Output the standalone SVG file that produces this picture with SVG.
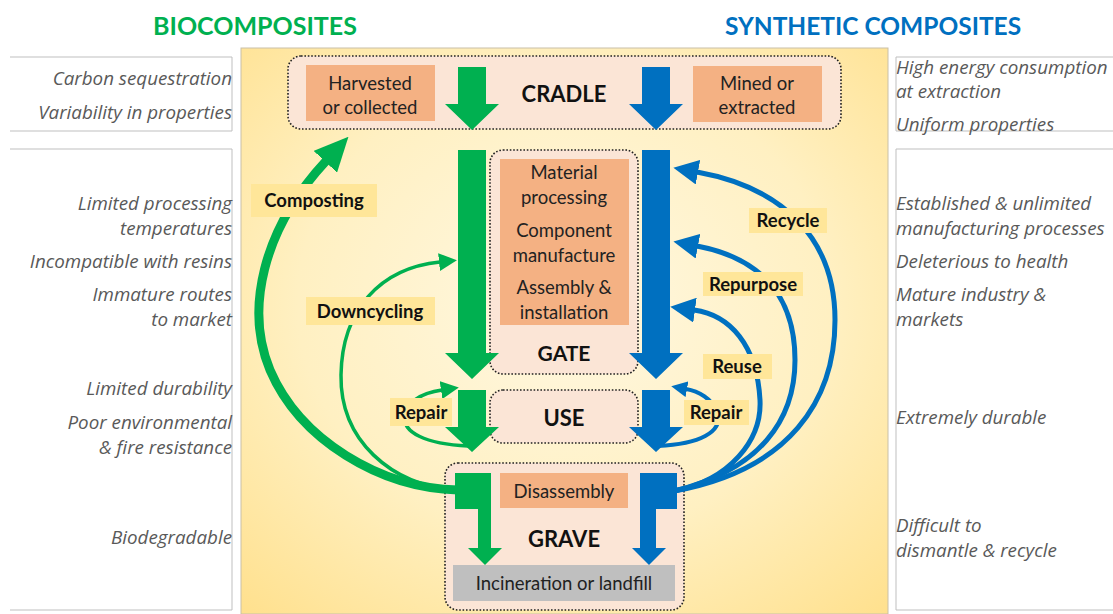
<svg xmlns="http://www.w3.org/2000/svg" width="1113" height="614" viewBox="0 0 1113 614">
<defs>
<radialGradient id="bg" cx="50%" cy="45%" r="75%">
<stop offset="0" stop-color="#fff8e2"/>
<stop offset="0.55" stop-color="#fff0c2"/>
<stop offset="1" stop-color="#ffe08c"/>
</radialGradient>
<marker id="mgl" markerUnits="userSpaceOnUse" markerWidth="34" markerHeight="32" refX="1" refY="16" orient="auto" viewBox="0 0 34 32"><path d="M0,0 L34,16 L0,32 z" fill="#00b050"/></marker>
<marker id="mgs" markerUnits="userSpaceOnUse" markerWidth="18" markerHeight="18" refX="1" refY="9" orient="auto" viewBox="0 0 18 18"><path d="M0,0 L18,9 L0,18 z" fill="#00b050"/></marker>
<marker id="mbl" markerUnits="userSpaceOnUse" markerWidth="25" markerHeight="25" refX="1" refY="12.5" orient="auto" viewBox="0 0 25 25"><path d="M0,0 L25,12.5 L0,25 z" fill="#0070c0"/></marker>
<marker id="mbs" markerUnits="userSpaceOnUse" markerWidth="16" markerHeight="16" refX="1" refY="8" orient="auto" viewBox="0 0 16 16"><path d="M0,0 L16,8 L0,16 z" fill="#0070c0"/></marker>
</defs>
<style>
text{font-family:Lato,"Open Sans","Liberation Sans",sans-serif;dominant-baseline:central}
.hd{font-size:24.5px;font-weight:bold;text-anchor:middle}
.side{font-family:"Open Sans",Lato,"Liberation Sans",sans-serif;font-size:18.8px;font-style:italic;fill:#595959}
.l{text-anchor:end}
.body{font-size:18.5px;fill:#222;text-anchor:middle}
.stage{font-size:22px;font-weight:bold;fill:#111;text-anchor:middle}
.lab{font-size:18.5px;font-weight:bold;fill:#111;text-anchor:middle}
.lbox{fill:#ffe699}
.stagebox{fill:#fbe5d6;stroke:#222;stroke-width:1.6;stroke-dasharray:1.6 1.8}
.ob{fill:#f4b183}
.pl{fill:none;stroke:#bfbfbf;stroke-width:1}
.g{fill:#00b050}
.b{fill:#0070c0}
.cg{fill:none;stroke:#00b050}
.cb{fill:none;stroke:#0070c0}
</style>
<rect width="1113" height="614" fill="#ffffff"/>
<g id="side-panels">
<path class="pl" d="M10,57 H232 V131 H10"/>
<path class="pl" d="M10,149 H232 V610 H10"/>
<path class="pl" d="M1113,57 H896 V131 H1113"/>
<path class="pl" d="M1113,149 H896 V610 H1113"/>
</g>
<g id="headers">
<text class="hd" x="255" y="25" fill="#00b050" style="font-size:25px">BIOCOMPOSITES</text>
<text class="hd" x="873" y="25" fill="#0070c0">SYNTHETIC COMPOSITES</text>
</g>
<g id="bio-properties">
<text class="side l" x="232" y="78">Carbon sequestration</text>
<text class="side l" x="232" y="112">Variability in properties</text>
<text class="side l" x="232" y="203">Limited processing</text>
<text class="side l" x="232" y="228">temperatures</text>
<text class="side l" x="232" y="261">Incompatible with resins</text>
<text class="side l" x="232" y="294">Immature routes</text>
<text class="side l" x="232" y="319">to market</text>
<text class="side l" x="232" y="388">Limited durability</text>
<text class="side l" x="232" y="422">Poor environmental</text>
<text class="side l" x="232" y="447">&amp; fire resistance</text>
<text class="side l" x="232" y="537">Biodegradable</text>
</g>
<g id="synthetic-properties">
<text class="side" x="896" y="67">High energy consumption</text>
<text class="side" x="896" y="91">at extraction</text>
<text class="side" x="896" y="124">Uniform properties</text>
<text class="side" x="896" y="203">Established &amp; unlimited</text>
<text class="side" x="896" y="228">manufacturing processes</text>
<text class="side" x="896" y="261">Deleterious to health</text>
<text class="side" x="896" y="294">Mature industry &amp;</text>
<text class="side" x="896" y="319">markets</text>
<text class="side" x="896" y="417">Extremely durable</text>
<text class="side" x="896" y="525">Difficult to</text>
<text class="side" x="896" y="550">dismantle &amp; recycle</text>
</g>
<rect id="background" x="241" y="48" width="647" height="566" fill="url(#bg)" stroke="#c9c0a8" stroke-width="1"/>
<g id="cradle">
<rect class="stagebox" x="288" y="56" width="553" height="73" rx="13"/>
<rect class="ob" x="306" y="65" width="129" height="56"/>
<text class="body" x="370" y="83">Harvested</text>
<text class="body" x="370" y="107">or collected</text>
<rect class="ob" x="693" y="66" width="129" height="56"/>
<text class="body" x="757" y="83">Mined or</text>
<text class="body" x="757" y="107">extracted</text>
<text class="stage" x="564" y="93">CRADLE</text>
</g>
<g id="gate">
<rect class="stagebox" x="490" y="150" width="148" height="224" rx="13"/>
<rect class="ob" x="500" y="159" width="129" height="166"/>
<text class="body" x="564" y="172">Material</text>
<text class="body" x="564" y="197">processing</text>
<text class="body" x="564" y="230">Component</text>
<text class="body" x="564" y="255">manufacture</text>
<text class="body" x="564" y="287">Assembly &amp;</text>
<text class="body" x="564" y="312">installation</text>
<text class="stage" x="564" y="352" style="font-size:21px">GATE</text>
</g>
<g id="use">
<rect class="stagebox" x="490" y="390" width="148" height="53" rx="13"/>
<text class="stage" x="564" y="417">USE</text>
</g>
<g id="grave">
<rect class="stagebox" x="445" y="463" width="239" height="147" rx="13"/>
<rect class="ob" x="500" y="473" width="128" height="35"/>
<text class="body" x="564" y="491">Disassembly</text>
<text class="stage" x="564" y="538">GRAVE</text>
<rect x="453" y="565" width="222" height="36" fill="#bfbfbf"/>
<text class="body" x="564" y="583">Incineration or landfill</text>
</g>
<g id="connectors">
<polygon class="g" points="458,67 486,67 486,104 499,104 472,130 445,104 458,104"/>
<polygon class="g" points="458,150 486,150 486,353 499,353 472,379 445,353 458,353"/>
<polygon class="g" points="458,390 486,390 486,427 499,427 472,452 445,427 458,427"/>
<polygon class="g" points="455,473 491,473 491,509 491,548 502,548 485,565 468,548 478,548 478,509 455,509"/>
<polygon class="b" points="642,67 670,67 670,104 683,104 656,130 629,104 642,104"/>
<polygon class="b" points="642,150 670,150 670,353 683,353 656,379 629,353 642,353"/>
<polygon class="b" points="642,390 670,390 670,427 683,427 656,452 629,427 642,427"/>
<polygon class="b" points="677,473 640,473 640,548 632,548 649,565 666,548 656,548 656,509 677,509"/>
<path class="cg" stroke-width="9" d="M458,490 C380,488 300,440 270,370 C245,310 262,230 326,161" marker-end="url(#mgl)"/>
<path class="cg" stroke-width="3.5" d="M458,491 C390,485 340,440 341,375 C342,310 380,268 440,262" marker-end="url(#mgs)"/>
<path class="cg" stroke-width="3.5" d="M468,446 C425,444 402,432 405,416 C408,400 422,393 442,390" marker-end="url(#mgs)"/>
<path class="cb" stroke-width="5" d="M674,491 C790,470 835,400 835,320 C835,240 785,188 697,172" marker-end="url(#mbl)"/>
<path class="cb" stroke-width="5" d="M674,491 C760,470 795,420 795,360 C795,295 760,258 697,246" marker-end="url(#mbl)"/>
<path class="cb" stroke-width="5" d="M674,491 C730,480 762,440 760,400 C757,345 730,315 694,310" marker-end="url(#mbl)"/>
<path class="cb" stroke-width="4" d="M658,446 C700,444 722,432 718,414 C713,398 697,391 686,389" marker-end="url(#mbs)"/>
</g>
<g id="labels">
<rect class="lbox" x="251" y="184" width="126" height="33"/>
<text class="lab" x="314" y="200">Composting</text>
<rect class="lbox" x="306" y="297" width="129" height="28"/>
<text class="lab" x="370" y="311">Downcycling</text>
<rect class="lbox" x="390" y="398" width="62" height="28"/>
<text class="lab" x="421" y="412">Repair</text>
<rect class="lbox" x="749" y="208" width="78" height="25"/>
<text class="lab" x="788" y="220">Recycle</text>
<rect class="lbox" x="703" y="272" width="100" height="24"/>
<text class="lab" x="753" y="284">Repurpose</text>
<rect class="lbox" x="703" y="354" width="69" height="25"/>
<text class="lab" x="737" y="366">Reuse</text>
<rect class="lbox" x="684" y="400" width="65" height="25"/>
<text class="lab" x="716" y="412">Repair</text>
</g>
</svg>
